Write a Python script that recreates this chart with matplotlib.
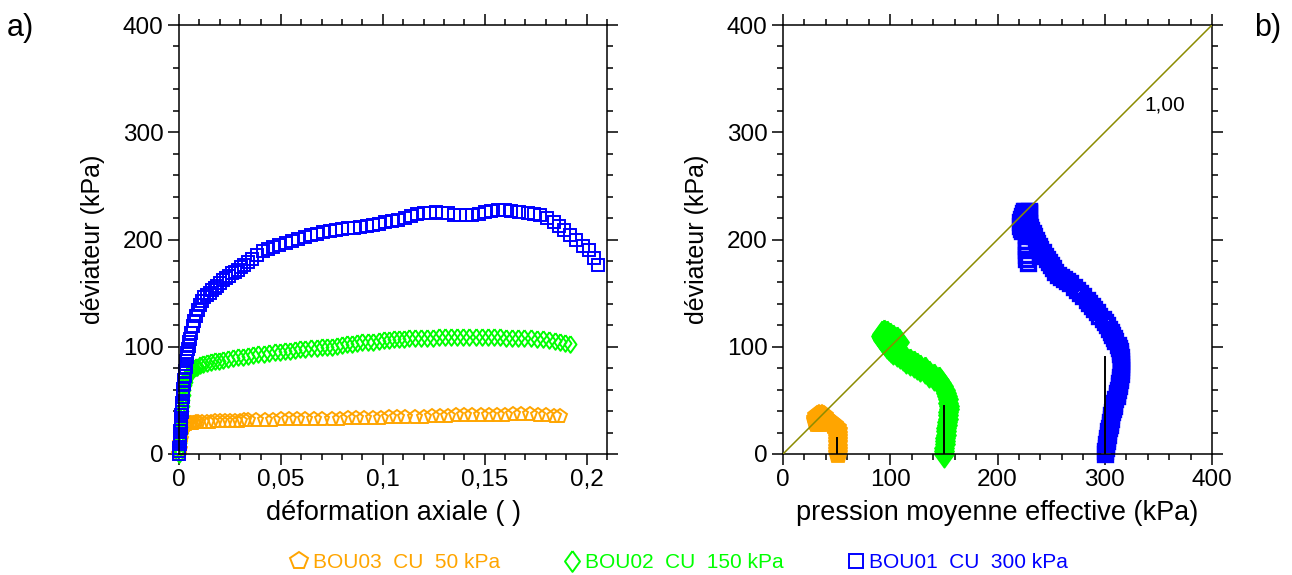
import numpy as np
import matplotlib
matplotlib.use("Agg")
import matplotlib.pyplot as plt
from matplotlib.ticker import MultipleLocator, FixedLocator, FixedFormatter
from matplotlib.lines import Line2D

plt.rcParams['font.family'] = ['Liberation Sans', 'DejaVu Sans']

# colours / labels
c_bou03 = '#FFA500'
c_bou02 = '#00FF00'
c_bou01 = '#0000FF'
labels = ['BOU03  CU  50 kPa', 'BOU02  CU  150 kPa', 'BOU01  CU  300 kPa']

# ---- a) deviator vs axial strain ----
eps_bou01 = [0.0000, 0.0001, 0.0002, 0.0003, 0.0004, 0.0005, 0.0006, 0.0007, 0.0008, 0.0009,
             0.0010, 0.0011, 0.0012, 0.0013, 0.0014, 0.0015, 0.0016, 0.0018, 0.0020, 0.0022,
             0.0024, 0.0026, 0.0028, 0.0030, 0.0032, 0.0034, 0.0036, 0.0038,
             0.0041, 0.0044, 0.0047, 0.0050, 0.0053, 0.0060, 0.0067, 0.0075, 0.0083, 0.0092, 0.0102, 0.0113,
             0.0125, 0.0137, 0.0150, 0.0162, 0.0175, 0.0188, 0.0200, 0.0215, 0.0230, 0.0245,
             0.0260, 0.0275, 0.0290, 0.0305, 0.0320, 0.0340, 0.0360, 0.0385, 0.0412, 0.0437,
             0.0463, 0.0493, 0.0524, 0.0555, 0.0586, 0.0616, 0.0647, 0.0678, 0.0708, 0.0740,
             0.0770, 0.0800, 0.0830, 0.0860, 0.0890, 0.0920, 0.0953, 0.0980, 0.1010, 0.1043,
             0.1076, 0.1108, 0.1140, 0.1170, 0.1200, 0.1230, 0.1260, 0.1290, 0.1320, 0.1350,
             0.1380, 0.1410, 0.1440, 0.1470, 0.1500, 0.1530, 0.1565, 0.1600, 0.1630, 0.1670,
             0.1710, 0.1740, 0.1770, 0.1805, 0.1840, 0.1865, 0.1890, 0.1920, 0.1950, 0.1980,
             0.2014, 0.2035, 0.2055]
q_bou01 = [0, 3, 6, 9, 12, 15, 18, 21, 24, 27,
           30, 33, 36, 39, 42, 45, 48, 53, 57, 61,
           65, 69, 73, 77, 81, 84, 87, 90,
           94, 98, 101, 104, 107, 113, 119, 124, 129, 134, 139, 143,
           146, 148, 150, 153, 155, 157, 159, 162, 164, 166,
           168.5, 170, 172, 174, 176, 179, 182, 186, 189, 191,
           193, 195, 197, 199, 200.5, 202, 204, 205.5, 207, 208,
           209, 210, 210.5, 211, 212, 212.5, 213.5, 214.5, 216, 217,
           218, 220, 222, 223.5, 224.5, 225, 225.4, 225, 224.5, 223,
           222.4, 222.5, 223, 224, 225.3, 226.5, 227.5, 227.5, 227, 226,
           224.5, 224, 223, 220, 216.6, 213, 209, 204, 199.5, 194,
           190, 183, 176]

eps_bou02 = [0.0000, 0.0002, 0.0004, 0.0006, 0.0008, 0.0010, 0.0012, 0.0014, 0.0016, 0.0018,
             0.0020, 0.0023, 0.0026, 0.0030, 0.0033, 0.0036, 0.0040, 0.0045, 0.0050, 0.0055,
             0.0060, 0.0066, 0.0071, 0.0076, 0.0083, 0.0090, 0.0105, 0.0120, 0.0137, 0.0155,
             0.0175, 0.0195, 0.0215,
             0.0239, 0.0265, 0.0290, 0.0315, 0.0340, 0.0365, 0.0390, 0.0415, 0.0443, 0.0470,
             0.0495, 0.0520, 0.0545, 0.0570, 0.0595, 0.0620, 0.0647, 0.0675, 0.0700, 0.0725,
             0.0750, 0.0775, 0.0800, 0.0825, 0.0850, 0.0875, 0.0900, 0.0925, 0.0953, 0.0980,
             0.1005, 0.1030, 0.1055, 0.1080, 0.1105, 0.1130, 0.1157, 0.1185, 0.1215, 0.1245,
             0.1275, 0.1305, 0.1335, 0.1365, 0.1395, 0.1425, 0.1455, 0.1485, 0.1515, 0.1545,
             0.1575, 0.1605, 0.1635, 0.1665, 0.1695, 0.1725, 0.1755, 0.1785, 0.1815, 0.1845,
             0.1870, 0.1895, 0.1920]
q_bou02 = [0, 5, 10, 15, 20, 25, 30, 35, 40, 45,
           50, 55, 60, 64, 67, 70, 72, 73.7, 75, 76,
           77, 78, 79, 80, 80.8, 81.5, 83, 84, 84.6, 85.5,
           86.5, 87, 87.8,
           88.3, 89.3, 90, 90.7, 91.4, 92.2, 92.8, 93.3, 93.9, 94.7,
           95.4, 95.8, 96.3, 97, 97.6, 98, 98.5, 99, 99.5, 99.8,
           100, 101, 101.6, 102.2, 102.6, 103.4, 104, 104.4, 104.7, 105.6,
           106, 106.4, 106.8, 107.2, 107.5, 107.7, 107.8, 108.2, 108.5, 108.6,
           108.7, 108.8, 108.8, 108.8, 108.9, 109, 109, 108.9, 108.9, 108.8,
           108.7, 108.5, 108.3, 108.1, 107.9, 107.8, 107.6, 107, 106, 105,
           104, 103.2, 102.6]

eps_bou03 = [0.0000, 0.0003, 0.0006, 0.0009, 0.0012, 0.0015, 0.0020, 0.0025, 0.0030, 0.0038,
             0.0045, 0.0053, 0.0060, 0.0068, 0.0076, 0.0085, 0.0095,
             0.0115, 0.0135, 0.0155, 0.0175, 0.0200, 0.0225, 0.0250, 0.0275, 0.0300, 0.0320,
             0.0340, 0.0380, 0.0420, 0.0460, 0.0500, 0.0540, 0.0580, 0.0620, 0.0660, 0.0700,
             0.0750, 0.0790, 0.0830, 0.0870, 0.0910, 0.0950, 0.0990, 0.1030, 0.1070, 0.1110,
             0.1157, 0.1200, 0.1240, 0.1280, 0.1320, 0.1360, 0.1400, 0.1440, 0.1480, 0.1520,
             0.1560, 0.1600, 0.1640, 0.1680, 0.1720, 0.1760, 0.1800, 0.1840, 0.1870]
q_bou03 = [0, 5, 10, 14, 18, 21, 24, 26, 27.5, 28.2,
           28.6, 28.8, 29, 29.1, 29.2, 29.4, 29.5,
           29.8, 30, 30.2, 30.4, 30.6, 30.8, 31, 31.1, 31.2, 31.3,
           31.4, 31.6, 31.8, 32, 32.2, 32.4, 32.5, 32.6, 32.7, 32.8,
           32.9, 33.1, 33.3, 33.5, 33.7, 33.9, 34, 34.1, 34.2, 34.4,
           34.5, 34.8, 35.1, 35.4, 35.7, 35.9, 36.1, 36.3, 36.4, 36.5,
           36.6, 36.8, 37, 37, 36.9, 36.6, 36.2, 35.5, 35]

# ---- b) stress paths p' - q ----
p_path01 = [300, 300, 301, 301, 302, 302, 303, 303, 304, 305, 305, 306, 306, 307, 308, 309,
            309, 310, 311, 311, 312, 313, 313, 314, 314, 315, 315, 315, 315, 315, 315, 314,
            314, 313, 312, 310, 309, 307, 306, 304, 302, 300, 298, 295, 293, 290, 288, 285,
            283, 280, 277, 274, 271, 268, 265, 262, 259, 256, 254, 252, 250, 248, 246, 244,
            242, 240, 239, 237, 236, 234, 233, 231, 230, 229, 228, 227, 226, 226, 225, 224,
            223, 222, 221, 221, 222, 223, 224, 225, 226, 227, 228, 229, 229, 229, 228, 228,
            227, 227, 227, 227, 227, 227, 227, 227, 227, 228]
q_path01 = [0, 3, 6, 9, 12, 15, 18, 21, 24, 27, 30, 33, 36, 39, 42, 45,
            48, 51, 54, 57, 60, 63, 66, 69, 72, 75, 78, 81, 84, 87, 90, 93,
            96, 99, 102, 105, 108, 111, 114, 117, 120, 123, 126, 129, 132, 135, 138, 141,
            144, 147, 150, 153, 156, 159, 161, 163, 165, 167, 170, 173, 176, 179, 182, 185,
            188, 191, 194, 197, 200, 203, 206, 209, 212, 215, 218, 221, 224, 227, 227, 225,
            222, 219, 216, 213, 210, 208, 210, 213, 216, 219, 222, 225, 227, 226, 224, 221,
            217, 213, 209, 204, 199, 194, 190, 186, 182, 178]

p_path02 = [150, 150, 150, 151, 151, 151, 152, 152, 152, 153, 153, 154, 154, 154, 155, 155,
            154, 154, 153, 152, 151, 149, 147, 145, 141, 136, 132, 128, 125, 122, 118, 115,
            112, 109, 106, 103, 101, 99, 97, 95, 93, 92, 91, 92, 94, 97, 100, 103, 106, 108]
q_path02 = [0, 3, 6, 9, 12, 15, 18, 21, 24, 27, 30, 33, 36, 39, 42, 45,
            48, 51, 54, 57, 60, 63, 66, 69, 72, 75, 78, 80, 82, 84, 86, 88,
            90, 92, 94, 96, 98, 100, 102, 104, 106, 108, 110, 112, 113, 112, 110, 108, 106, 104]

p_path03 = [51, 51, 51, 51, 51, 51, 51, 51, 50, 48, 45, 42, 40, 38, 36, 34,
            32, 31, 31, 32, 34]
q_path03 = [0, 3, 6, 9, 12, 15, 18, 21, 24, 27, 29, 31, 33, 35, 36, 36,
            35, 33, 31, 29, 29]

# vertical reference segments and slope line
v_p = [50, 150, 300]
v_q = [15, 45, 90]
line_p = [0, 400]
line_q = [0, 400]

diamond = [(0, 1), (0.72, 0), (0, -1), (-0.72, 0), (0, 1)]

fig = plt.figure(figsize=(12.92, 5.75), dpi=100)
ax1 = fig.add_axes([179 / 1292, 1 - 454 / 575, 428 / 1292, 429 / 575])
ax2 = fig.add_axes([783 / 1292, 1 - 454 / 575, 429 / 1292, 429 / 575])

ax1.plot(eps_bou03, q_bou03, ls='none', marker='p', ms=10.5, mfc='none', mec=c_bou03, mew=1.4, clip_on=False)
ax1.plot(eps_bou02, q_bou02, ls='none', marker=diamond, ms=12, mfc='none', mec=c_bou02, mew=1.4, clip_on=False)
ax1.plot(eps_bou01, q_bou01, ls='none', marker='s', ms=8.5, mfc='none', mec=c_bou01, mew=1.4, clip_on=False)

ax2.plot(p_path03, q_path03, ls='none', marker='p', ms=14, mfc=c_bou03, mec=c_bou03, mew=1.3, clip_on=False)
ax2.plot(p_path02, q_path02, ls='none', marker=diamond, ms=19, mfc=c_bou02, mec=c_bou02, mew=1.3, clip_on=False)
ax2.plot(p_path01, q_path01, ls='none', marker='s', ms=10.5, mfc='none', mec=c_bou01, mew=2.4, clip_on=False)
ax2.plot(line_p, line_q, color='#8C8C00', lw=1.1, zorder=5)
for p, q in zip(v_p, v_q):
    ax2.plot([p, p], [0, q], color='black', lw=1.4, zorder=5)
ax2.text(337, 325, '1,00', fontsize=15, ha='left', va='center')

ax1.set_xlim(0, 0.21)
ax1.xaxis.set_major_locator(FixedLocator([0, 0.05, 0.1, 0.15, 0.2]))
ax1.xaxis.set_major_formatter(FixedFormatter(['0', '0,05', '0,1', '0,15', '0,2']))
ax1.xaxis.set_minor_locator(MultipleLocator(0.01))
ax2.set_xlim(0, 400)
ax2.xaxis.set_major_locator(MultipleLocator(100))
ax2.xaxis.set_minor_locator(MultipleLocator(20))

for ax in (ax1, ax2):
    ax.set_ylim(0, 400)
    ax.yaxis.set_major_locator(MultipleLocator(100))
    ax.yaxis.set_minor_locator(MultipleLocator(20))
    ax.tick_params(which='both', direction='out', top=True, right=True,
                   labelsize=17.5, width=1.1, pad=3)
    ax.tick_params(which='major', length=8)
    ax.tick_params(which='minor', length=4)
    for s in ax.spines.values():
        s.set_linewidth(1.1)
    ax.set_ylabel('déviateur (kPa)', fontsize=18, labelpad=13)

ax1.set_xlabel('déformation axiale ( )', fontsize=19.5, labelpad=6)
ax2.set_xlabel('pression moyenne effective (kPa)', fontsize=19.5, labelpad=6)

fig.text(7 / 1292, 1 - 28 / 575, 'a)', fontsize=22, va='center', ha='left')
fig.text(1254 / 1292, 1 - 28 / 575, 'b)', fontsize=22, va='center', ha='left')

handles = [
    Line2D([], [], ls='none', marker='p', ms=13, mfc='none', mec=c_bou03, mew=1.4),
    Line2D([], [], ls='none', marker=diamond, ms=15, mfc='none', mec=c_bou02, mew=1.4),
    Line2D([], [], ls='none', marker='s', ms=10, mfc='none', mec=c_bou01, mew=1.4),
]
leg = fig.legend(handles, labels, loc='center', bbox_to_anchor=(0.5255, 0.022), ncol=3,
                 frameon=False, fontsize=15, handlelength=0.9, handletextpad=0.2,
                 columnspacing=3.0, borderpad=0)
for t, c in zip(leg.get_texts(), [c_bou03, c_bou02, c_bou01]):
    t.set_color(c)

fig.savefig('out.png', dpi=100)
